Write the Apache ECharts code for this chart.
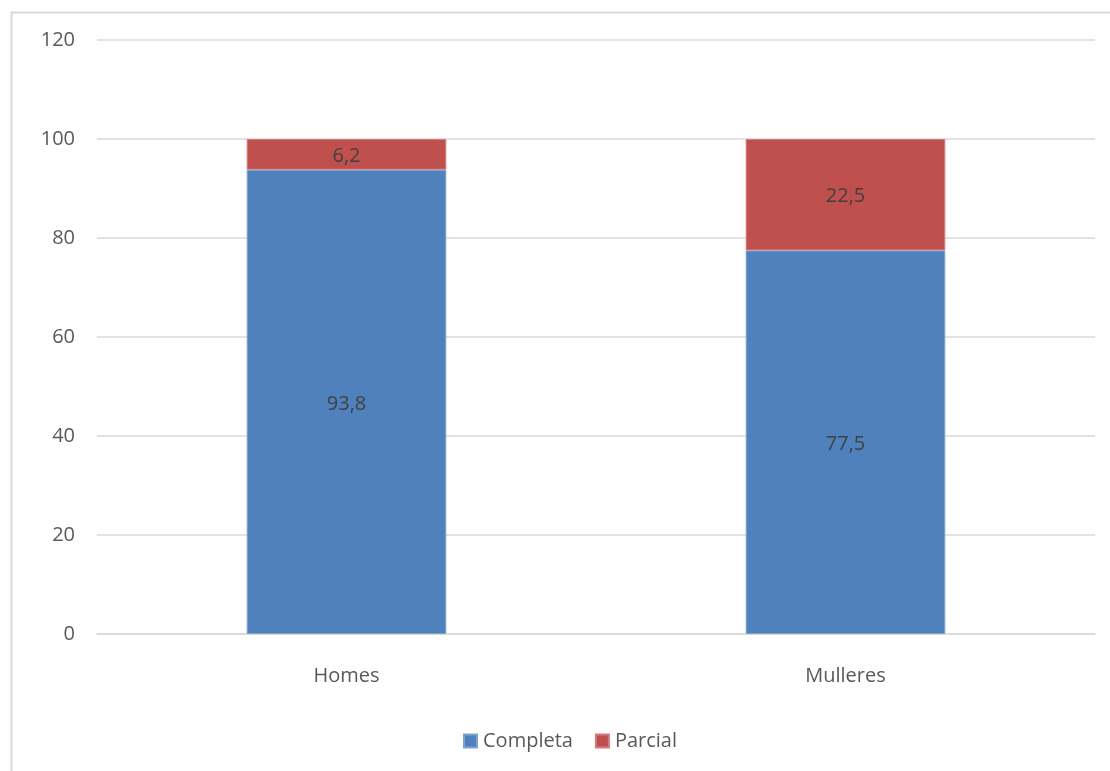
<!DOCTYPE html>
<html>
<head>
<meta charset="utf-8">
<script src="https://cdn.jsdelivr.net/npm/echarts@6/dist/echarts.min.js"></script>
<style>
  html, body { margin: 0; padding: 0; background: #ffffff; }
  #chart { width: 1110px; height: 771px; }
</style>
</head>
<body>
<div id="chart"></div>
<script>
// Categories and stacked shares (%)
const categories = ['Homes', 'Mulleres'];
const completa = [93.8, 77.5];
const parcial = [6.2, 22.5];
const yTicks = { min: 0, max: 120, interval: 20 };

const FONT = '"Open Sans", "Liberation Sans", sans-serif';
const SIZE = 20;
const fmt = p => String(p.value).replace('.', ',');

const chart = echarts.init(document.getElementById('chart'), null, { renderer: 'canvas' });

chart.setOption({
  backgroundColor: '#ffffff',
  animation: false,
  graphic: [{
    type: 'rect',
    left: 9, top: 10,
    shape: { width: 1200, height: 900 },
    style: { fill: 'none', stroke: '#d9d9d9', lineWidth: 2 },
    silent: true
  }],
  grid: { left: 97, right: 15, top: 40, bottom: 137, containLabel: false },
  legend: {
    bottom: 15,
    left: 458,
    itemWidth: 13, itemHeight: 13, itemGap: 22,
    icon: 'rect',
    textStyle: { color: '#595959', fontSize: SIZE, fontFamily: FONT, padding: [0, 0, 0, 1] },
    data: ['Completa', 'Parcial']
  },
  xAxis: {
    type: 'category',
    data: categories,
    axisLine: { lineStyle: { color: '#d9d9d9', width: 1.5 } },
    axisTick: { show: false },
    axisLabel: { color: '#595959', fontSize: SIZE, fontFamily: FONT, margin: 32 }
  },
  yAxis: {
    type: 'value',
    min: yTicks.min, max: yTicks.max, interval: yTicks.interval,
    axisLine: { show: false },
    axisTick: { show: false },
    splitLine: { lineStyle: { color: '#d9d9d9', width: 1.5 } },
    axisLabel: { color: '#595959', fontSize: SIZE, fontFamily: FONT, margin: 22 }
  },
  series: [
    {
      name: 'Completa', type: 'bar', stack: 'total', data: completa,
      barWidth: '40%',
      itemStyle: { color: '#4f81bd', borderColor: '#7fa3cf', borderWidth: 1 },
      label: { show: true, position: 'inside', formatter: fmt, color: '#404040', fontSize: SIZE, fontFamily: FONT, offset: [0, 2] }
    },
    {
      name: 'Parcial', type: 'bar', stack: 'total', data: parcial,
      barWidth: '40%',
      itemStyle: { color: '#c0504d', borderColor: '#d47c7a', borderWidth: 1 },
      label: { show: true, position: 'inside', formatter: fmt, color: '#404040', fontSize: SIZE, fontFamily: FONT, offset: [0, 2] }
    }
  ]
});
</script>
</body>
</html>
